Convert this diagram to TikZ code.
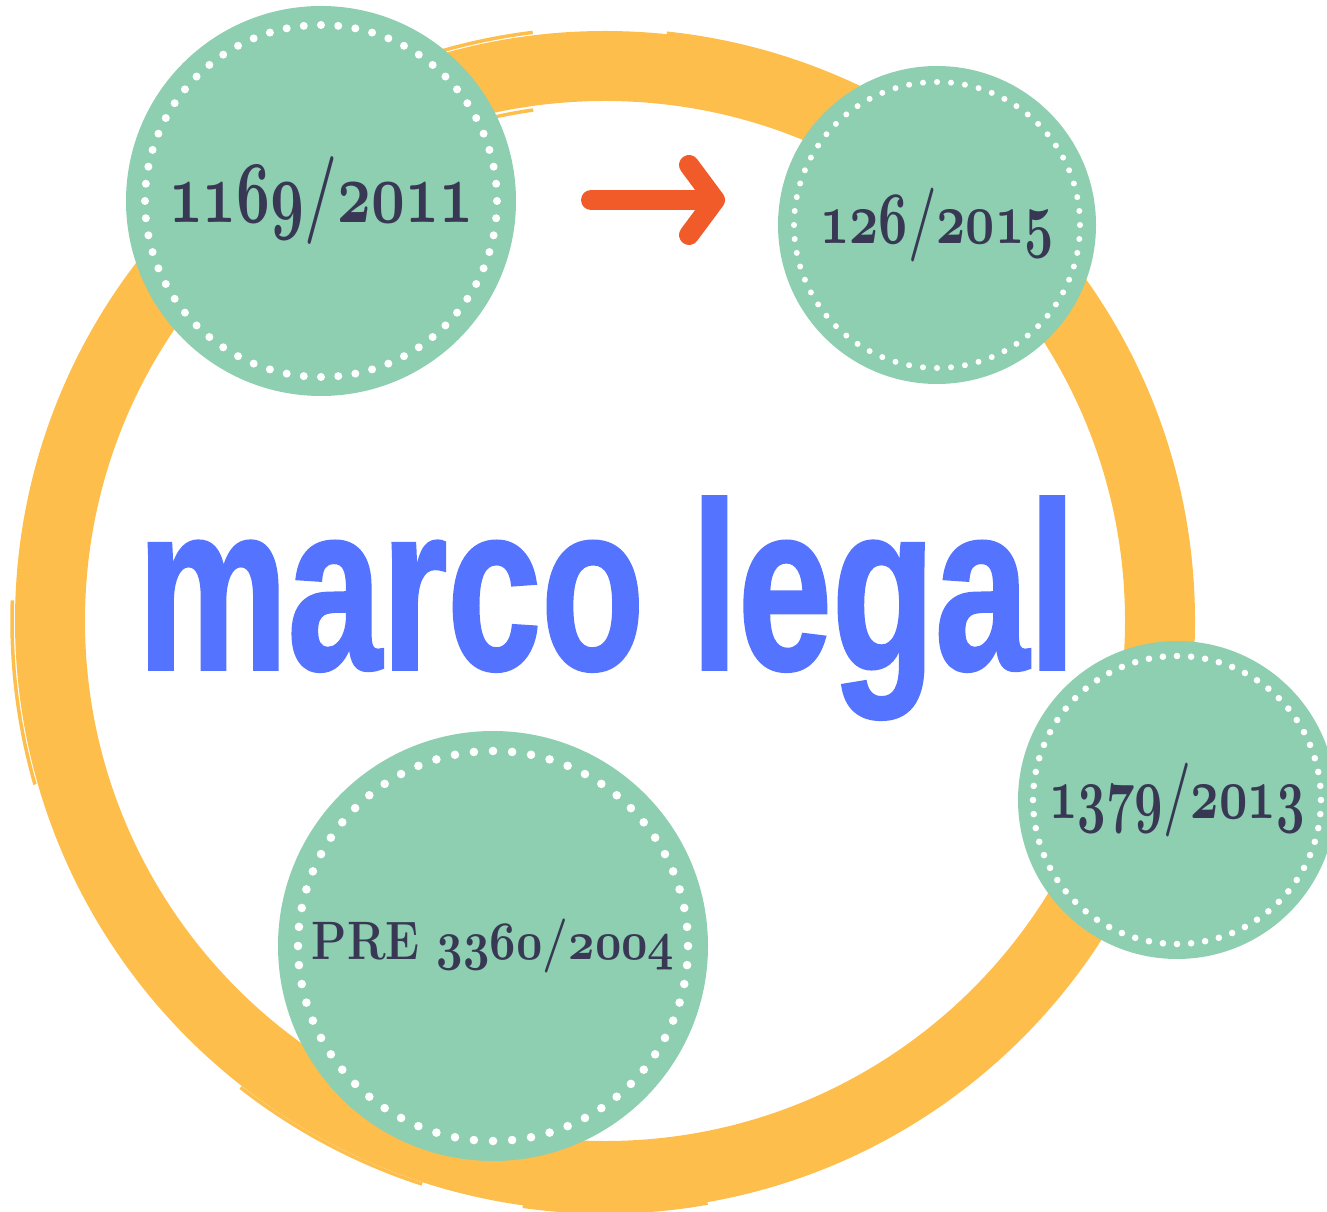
\RequirePackage{fix-cm}
\documentclass[tikz,border=0pt]{standalone}
\usepackage{fontspec}
\usepackage{graphicx}
\usetikzlibrary{arrows.meta}

\newfontface\titlefont{Liberation Sans Bold}[FakeBold=1.5]

\definecolor{ringyellow}{HTML}{FEBE4C}
\definecolor{lawgreen}{HTML}{8DCFB0}
\definecolor{titleblue}{HTML}{5473FF}
\definecolor{datenavy}{HTML}{383854}
\definecolor{arroworange}{HTML}{F15A29}

% old style figures from the math italic fonts
\newcommand\oldbold[1]{{\usefont{OML}{cmm}{b}{it}#1}}

\begin{document}
\begin{tikzpicture}[
    x=0.1mm, y=-0.1mm,
    law/.style={circle, fill=lawgreen, inner sep=0pt, text=datenavy},
    brush/.style={draw=ringyellow, line width=7mm},
    bristle/.style={draw=ringyellow, line width=0.35mm},
    pointer/.style={draw=arroworange, line width=2mm, line cap=round,
        -{Straight Barb[round, length=2.6mm, width=7mm]}}
]
    \useasboundingbox (0,0) rectangle (1327,1212);

    % Brush ring
    \coordinate (ring) at (605,621);
    \draw[brush] (ring) circle (555);
    \draw[bristle] (ring) ++(97:5.93cm) arc (97:116:5.93cm);
    \draw[bristle] (ring) ++(62:5.91cm) arc (62:84:5.91cm);
    \draw[bristle] (ring) ++(98:5.16cm) arc (98:113:5.16cm);
    \draw[bristle] (ring) ++(232:5.92cm) arc (232:252:5.92cm);
    \draw[bristle] (ring) ++(262:5.91cm) arc (262:280:5.91cm);
    \draw[bristle] (ring) ++(178:5.93cm) arc (178:196:5.93cm);

    % Laws
    \node[law, minimum size=3.9cm] (c1169) at (321,201)
        {\fontsize{25}{25}\selectfont\bfseries\scalebox{0.67}[1]{\oldbold{1169}/\oldbold{2011}}};
    \node[law, minimum size=3.18cm] (c126) at (937,225)
        {\fontsize{21}{21}\selectfont\bfseries\scalebox{0.69}[1]{\oldbold{126}/\oldbold{2015}}};
    \node[law, minimum size=3.18cm] (c1379) at (1177,800)
        {\fontsize{21}{21}\selectfont\bfseries\scalebox{0.67}[1]{\oldbold{1379}/\oldbold{2013}}};
    \node[law, minimum size=4.3cm] (c3360) at (493,946)
        {\fontsize{15.4}{15.4}\selectfont\bfseries\scalebox{0.85}[1]{PRE \oldbold{3360}/\oldbold{2004}}};

    % Dotted borders
    \foreach \c/\r/\d in {c1169/1.76/0.4, c126/1.43/0.3, c1379/1.44/0.33, c3360/1.95/0.43}
        \foreach \i in {1,...,64}
            \fill[white] (\c.center) ++(\i*5.625:\r cm) circle (\d mm);

    % Title
    \node[anchor=base west, inner sep=0pt, text=titleblue] (title) at (137,669)
        {\resizebox{9.38cm}{1.72cm}{\titlefont marco legal}};

    % Arrow
    \coordinate (arrow tail) at (591,200);
    \coordinate (arrow tip) at (725,200);
    \draw[pointer] (arrow tail) -- (arrow tip);

\end{tikzpicture}
\end{document}
